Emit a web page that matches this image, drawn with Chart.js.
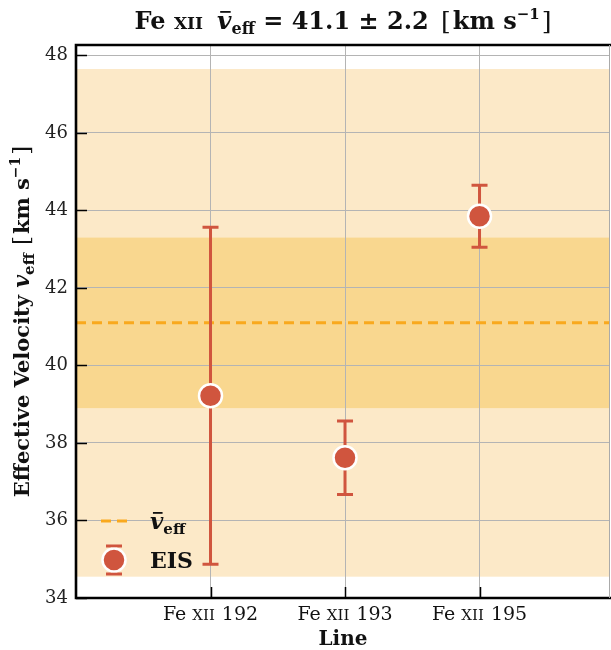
<!DOCTYPE html>
<html lang="en">
<head>
  <meta charset="UTF-8" />
  <title>Fe XII effective velocity</title>
  <script src="https://cdn.jsdelivr.net/npm/chart.js"></script>
  <style>
    html, body { margin: 0; padding: 0; background: #fff; }
    #chart { display: block; }
  </style>
</head>
<body>
  <canvas id="chart" width="611" height="650"></canvas>

  <script>
    // EIS lines and their effective velocities (km/s)
    const lineNames = ['192', '193', '195'];
    const velocities = [39.22, 37.62, 43.85];
    const velocityErrors = [4.35, 0.95, 0.80];

    // mean velocity, its error and the wide band around it
    const meanVelocity = 41.1;
    const meanError = 2.2;
    const outerSpread = 6.55;

    const yTicks = [34, 36, 38, 40, 42, 44, 46, 48];

    const SERIF = '"DejaVu Serif", "Liberation Serif", serif';
    const RED = '#d0553e';
    const ORANGE = '#f9a91e';
    const BAND_OUTER = '#fce9c8';
    const BAND_INNER = '#f9d78f';

    // draws a row of text pieces with their own fonts / offsets
    function richWidth(ctx, parts) {
      let w = 0;
      parts.forEach(p => { ctx.font = p.font; w += ctx.measureText(p.t).width + (p.gap || 0); });
      return w;
    }
    function drawRich(ctx, parts, x, y, align) {
      let cx = align === 'center' ? x - richWidth(ctx, parts) / 2 : x;
      ctx.textAlign = 'left';
      ctx.textBaseline = 'alphabetic';
      parts.forEach(p => {
        ctx.font = p.font;
        const w = ctx.measureText(p.t).width;
        ctx.fillText(p.t, cx, y + (p.dy || 0));
        if (p.bar) ctx.fillRect(cx + w * 0.22, y - p.bar, w * 0.72, 1.8);
        cx += w + (p.gap || 0);
      });
    }

    const bg = {
      id: 'bands',
      beforeDraw(chart) {
        const { ctx, chartArea: a, scales: { y } } = chart;
        ctx.save();
        ctx.beginPath();
        ctx.rect(a.left, a.top, a.right - a.left, a.bottom - a.top);
        ctx.clip();
        const band = (lo, hi, col) => {
          const t = y.getPixelForValue(hi), b = y.getPixelForValue(lo);
          ctx.fillStyle = col;
          ctx.fillRect(a.left, t, a.right - a.left, b - t);
        };
        band(meanVelocity - outerSpread, meanVelocity + outerSpread, BAND_OUTER);
        band(meanVelocity - meanError, meanVelocity + meanError, BAND_INNER);
        ctx.restore();
      }
    };

    function errorBar(ctx, x, yTop, yBot, cap) {
      ctx.beginPath();
      ctx.moveTo(x, yTop); ctx.lineTo(x, yBot);
      ctx.moveTo(x - cap, yTop); ctx.lineTo(x + cap, yTop);
      ctx.moveTo(x - cap, yBot); ctx.lineTo(x + cap, yBot);
      ctx.stroke();
    }

    const errBars = {
      id: 'errBars',
      beforeDatasetDraw(chart, args) {
        if (args.index !== 0) return;
        const { ctx, scales: { x, y } } = chart;
        ctx.save();
        ctx.strokeStyle = RED;
        ctx.lineWidth = 3;
        velocities.forEach((v, i) => {
          const px = x.getPixelForValue(i);
          errorBar(ctx, px, y.getPixelForValue(v + velocityErrors[i]), y.getPixelForValue(v - velocityErrors[i]), 8);
        });
        ctx.restore();
      }
    };

    const decor = {
      id: 'decor',
      afterDraw(chart) {
        const { ctx, chartArea: a, scales: { x, y } } = chart;
        ctx.save();
        ctx.fillStyle = '#111';

        // inward tick marks
        ctx.strokeStyle = '#000';
        ctx.lineWidth = 1.5;
        ctx.beginPath();
        yTicks.forEach(t => {
          const py = Math.round(y.getPixelForValue(t)) + 0.5;
          ctx.moveTo(a.left, py); ctx.lineTo(a.left + 11, py);
        });
        lineNames.forEach((n, i) => {
          const px = Math.round(x.getPixelForValue(i)) + 0.5;
          ctx.moveTo(px, a.bottom); ctx.lineTo(px, a.bottom - 11);
        });
        ctx.stroke();

        // spines
        ctx.lineWidth = 2.6;
        ctx.beginPath();
        ctx.moveTo(a.right + 2, a.top); ctx.lineTo(a.left, a.top);
        ctx.lineTo(a.left, a.bottom); ctx.lineTo(a.right + 2, a.bottom);
        ctx.stroke();
        ctx.strokeStyle = '#aaa';
        ctx.lineWidth = 1;
        ctx.beginPath();
        ctx.moveTo(a.right - 0.5, a.top); ctx.lineTo(a.right - 0.5, a.bottom);
        ctx.stroke();

        // category labels
        lineNames.forEach((n, i) => {
          drawRich(ctx, [
            { t: 'Fe ', font: `19px ${SERIF}` },
            { t: 'XII', font: `15px ${SERIF}`, gap: 1 },
            { t: ' ' + n, font: `19px ${SERIF}` }
          ], x.getPixelForValue(i), 620, 'center');
        });

        // axis titles
        drawRich(ctx, [{ t: 'Line', font: `bold 20px ${SERIF}` }], (a.left + a.right) / 2, 645, 'center');

        ctx.save();
        ctx.translate(29, (a.top + a.bottom) / 2);
        ctx.rotate(-Math.PI / 2);
        drawRich(ctx, [
          { t: 'Effective Velocity ', font: `bold 21px ${SERIF}` },
          { t: 'v', font: `bold italic 22px ${SERIF}` },
          { t: 'eff', font: `bold 15px ${SERIF}`, dy: 5, gap: 8 },
          { t: '[', font: `23px ${SERIF}`, gap: 2 },
          { t: 'km s', font: `bold 21px ${SERIF}` },
          { t: '−1', font: `bold 14px ${SERIF}`, dy: -9, gap: 2 },
          { t: ']', font: `23px ${SERIF}` }
        ], 0, 0, 'center');
        ctx.restore();

        // title
        drawRich(ctx, [
          { t: 'Fe ', font: `bold 24px ${SERIF}` },
          { t: 'XII', font: `bold 17px ${SERIF}`, gap: 14 },
          { t: 'v', font: `bold italic 25px ${SERIF}`, bar: 18 },
          { t: 'eff', font: `bold 16px ${SERIF}`, dy: 5 },
          { t: ` = ${meanVelocity.toFixed(1)} ± ${meanError.toFixed(1)} `, font: `bold 24px ${SERIF}`, gap: 4 },
          { t: '[', font: `25px ${SERIF}`, gap: 2 },
          { t: 'km s', font: `bold 24px ${SERIF}` },
          { t: '−1', font: `bold 15px ${SERIF}`, dy: -10, gap: 2 },
          { t: ']', font: `25px ${SERIF}` }
        ], (a.left + a.right) / 2, 29, 'center');

        // legend
        ctx.strokeStyle = ORANGE;
        ctx.lineWidth = 3;
        ctx.setLineDash([10, 6]);
        ctx.beginPath();
        ctx.moveTo(101, 521); ctx.lineTo(129, 521);
        ctx.stroke();
        ctx.setLineDash([]);
        ctx.fillStyle = '#111';
        drawRich(ctx, [
          { t: 'v', font: `bold italic 23px ${SERIF}`, bar: 17 },
          { t: 'eff', font: `bold 15px ${SERIF}`, dy: 5 }
        ], 150, 529, 'left');

        ctx.strokeStyle = RED;
        errorBar(ctx, 114, 546, 574, 8);
        ctx.beginPath();
        ctx.arc(114, 560, 11.5, 0, Math.PI * 2);
        ctx.fillStyle = RED;
        ctx.fill();
        ctx.strokeStyle = '#fff';
        ctx.lineWidth = 2.5;
        ctx.stroke();
        ctx.fillStyle = '#111';
        drawRich(ctx, [{ t: 'EIS', font: `bold 22px ${SERIF}` }], 150, 568, 'left');

        ctx.restore();
      }
    };

    new Chart(document.getElementById('chart'), {
      type: 'scatter',
      data: {
        datasets: [
          {
            label: 'EIS',
            data: velocities.map((v, i) => ({ x: i, y: v })),
            pointRadius: 11.5,
            pointHoverRadius: 11.5,
            pointBackgroundColor: RED,
            pointBorderColor: '#fff',
            pointBorderWidth: 2.5
          },
          {
            type: 'line',
            label: 'mean',
            data: [{ x: -1, y: meanVelocity }, { x: 3, y: meanVelocity }],
            borderColor: ORANGE,
            borderWidth: 3,
            borderDash: [10, 6],
            pointRadius: 0,
            fill: false
          }
        ]
      },
      options: {
        responsive: false,
        animation: false,
        layout: { autoPadding: false, padding: { top: 45, right: 1, left: 0, bottom: 0 } },
        plugins: { legend: { display: false }, tooltip: { enabled: false }, title: { display: false } },
        scales: {
          x: {
            type: 'linear',
            min: -1,
            max: 2.97,
            afterBuildTicks: s => { s.ticks = lineNames.map((n, i) => ({ value: i })); },
            afterFit: s => { s.height = 52; s.paddingLeft = 0; s.paddingRight = 0; },
            ticks: { display: false },
            grid: { color: '#b4b4b4', lineWidth: 1, drawTicks: false },
            border: { display: false }
          },
          y: {
            min: 34,
            max: 48.27,
            afterBuildTicks: s => { s.ticks = yTicks.map(v => ({ value: v })); },
            afterFit: s => { s.width = 76; },
            ticks: { font: { family: SERIF, size: 18 }, color: '#222', padding: 8 },
            grid: { color: '#b4b4b4', lineWidth: 1, drawTicks: false },
            border: { display: false }
          }
        }
      },
      plugins: [bg, errBars, decor]
    });
  </script>
</body>
</html>
